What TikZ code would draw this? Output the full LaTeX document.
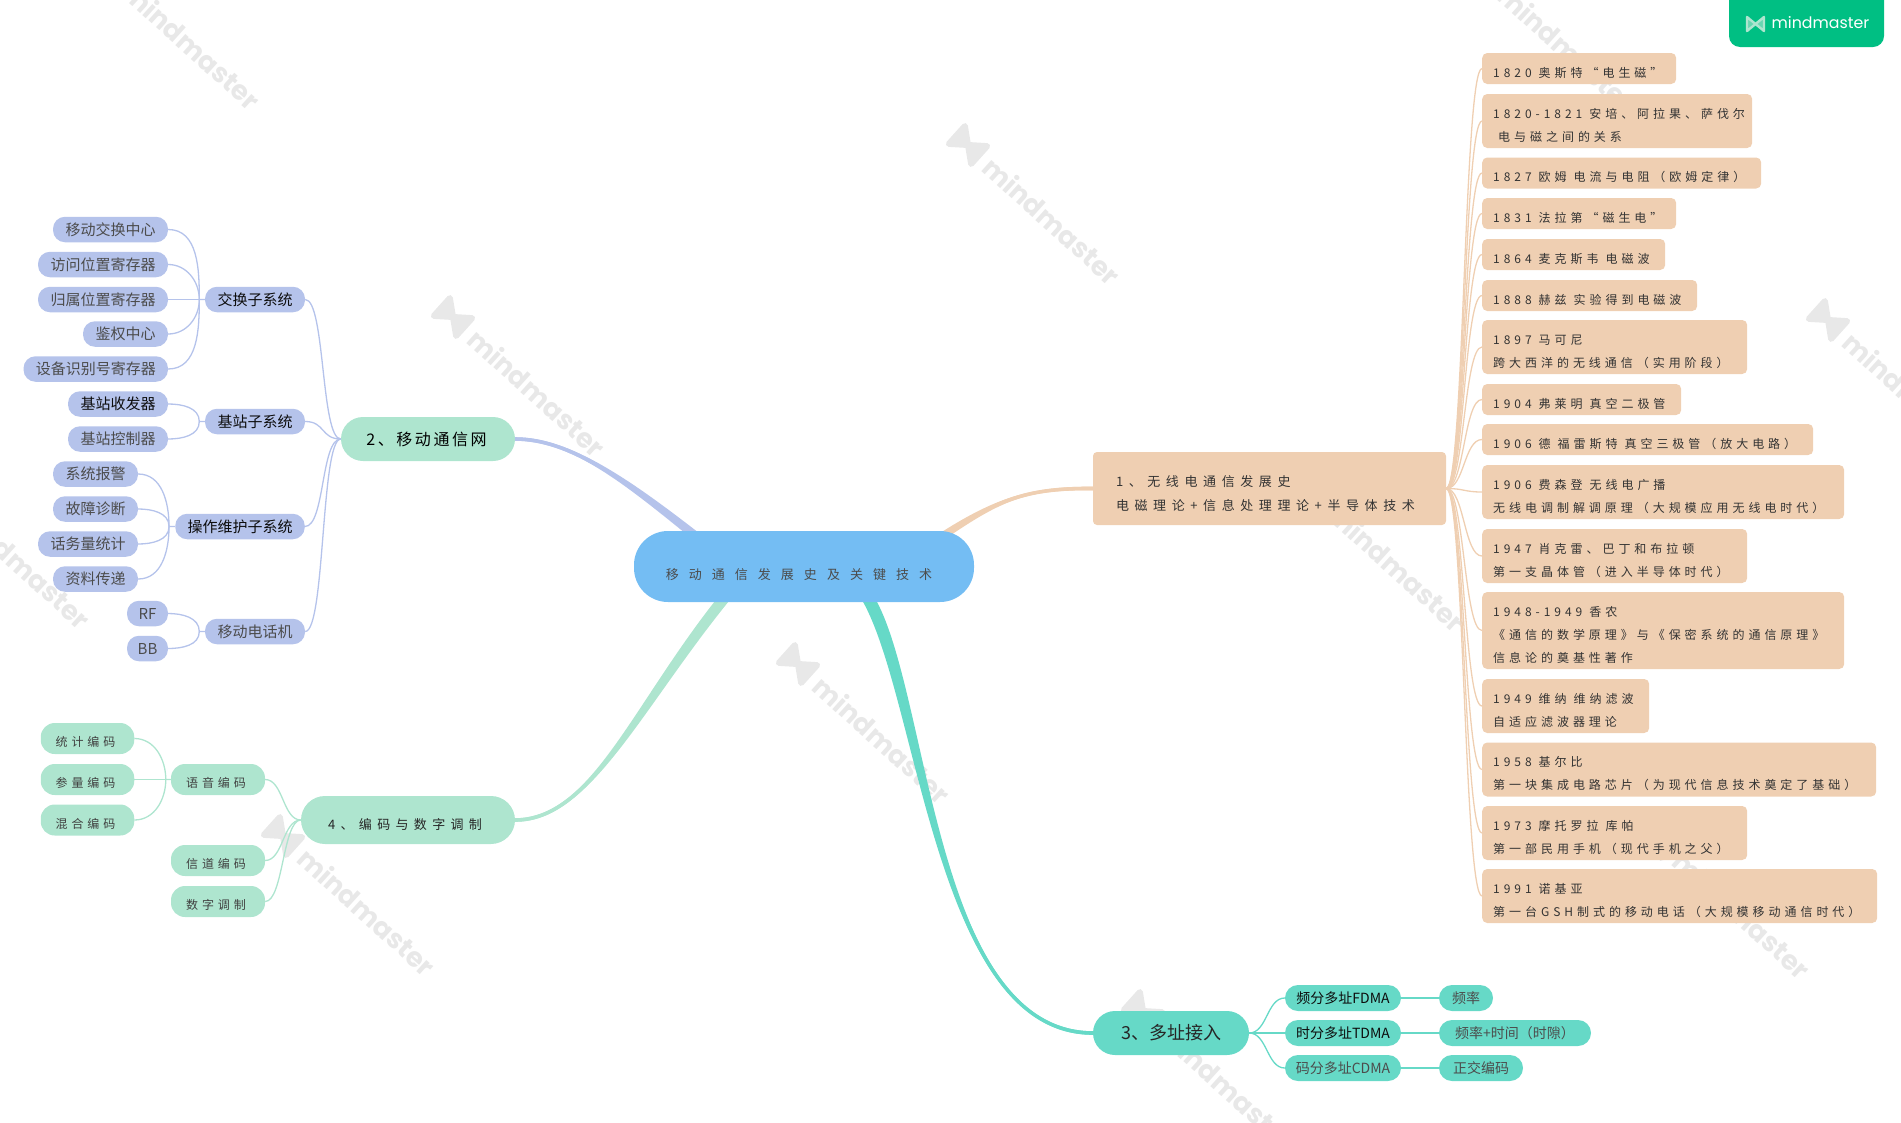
\documentclass[tikz,border=0pt]{standalone}
\usepackage{fontspec}
\setmainfont{Noto Sans CJK SC}
\newfontfamily\wmfont{Poppins}
\usepackage{tikz}
\usetikzlibrary{calc, backgrounds}
\definecolor{rootc}{RGB}{116, 189, 243}
\definecolor{tanc}{RGB}{239, 207, 178}
\definecolor{bluec}{RGB}{181, 195, 235}
\definecolor{mintc}{RGB}{174, 229, 207}
\definecolor{tealc}{RGB}{102, 217, 199}
\definecolor{logoc}{RGB}{0, 191, 131}
\newcommand{\yg}{\ \kern3pt\relax}
\newcommand{\bough}[6]{%
  \fill[#1] ($(#2)+(-7,0)$) .. controls ($(#3)+(-5.5,0)$) and ($(#4)+(0,#6)$) .. ($(#5)+(0,#6)$)
    -- ($(#5)+(0,{-1*(#6)})$) .. controls ($(#4)+(0,{-1*(#6)})$) and ($(#3)+(5.5,0)$) .. ($(#2)+(7,0)$) -- cycle;
  \draw[#1, line width=3.6pt] (#2) .. controls (#3) and (#4) .. (#5);
}

\begin{document}
\begin{tikzpicture}[
  x=1pt, y=-1pt,
  roottxt/.style={fill=rootc, rounded corners=34pt, minimum width=340pt, minimum height=71pt, inner sep=0pt,
              font=\fontsize{13}{24}\selectfont\addfontfeature{LetterSpace=77}, text=black!70, text height=26pt, text depth=0pt,
              execute at end node={\hspace*{10pt}}},
  mainbox/.style={fill=tanc, rounded corners=4pt, minimum height=73pt, inner xsep=23pt, inner ysep=0pt,
              text width=307pt, align=left, font=\fontsize{13}{24}\selectfont\addfontfeature{LetterSpace=43},
              text=black!80, text height=19pt, text depth=24pt},
  yearbox/.style={fill=tanc, rounded corners=5pt, anchor=west, minimum height=31pt, inner xsep=11pt, inner ysep=0pt,
              align=left, font=\fontsize{12}{23}\selectfont\addfontfeature{LetterSpace=33},
              text=black!80, text height=17pt, text depth=0pt, text width=#1pt-22pt},
  two/.style={minimum height=54pt, text depth=23pt},
  three/.style={minimum height=77pt, text depth=46pt},
  netbox/.style={fill=mintc, rounded corners=22pt, minimum width=174pt, minimum height=44pt, inner sep=0pt,
              font=\fontsize{16}{20}\selectfont\addfontfeature{LetterSpace=16}, execute at end node={\hspace*{3pt}}},
  bleaf/.style={fill=bluec, rounded corners=12pt, minimum height=25.5pt, inner sep=0pt,
              font=\fontsize{15}{18}\selectfont, text=black!70, minimum width=#1pt},
  codebox/.style={fill=mintc, rounded corners=24pt, minimum width=214pt, minimum height=48pt, inner sep=0pt,
              font=\fontsize{13}{20}\selectfont\addfontfeature{LetterSpace=41}, text=black!85, text height=18pt, text depth=0pt,
              execute at end node={\hspace*{6pt}}},
  mleaf/.style={fill=mintc, rounded corners=14pt, minimum height=31pt, inner sep=0pt,
              font=\fontsize{12}{20}\selectfont\addfontfeature{LetterSpace=33}, text=black!75,
              text height=16pt, text depth=0pt, minimum width=#1pt, execute at end node={\hspace*{4pt}}},
  accbox/.style={fill=tealc, rounded corners=22pt, minimum width=156pt, minimum height=44pt, inner sep=0pt,
              font=\fontsize{18}{20}\selectfont, text=black!85},
  tleaf/.style={fill=tealc, rounded corners=13pt, minimum height=26pt, inner sep=0pt,
              font=\fontsize{14}{18}\selectfont, text=black!70, minimum width=#1pt},
  dark/.style={text=black!95},
  sbend/.style={to path={.. controls +(#1,0) and +(-#1,0) .. (\tikztotarget)}},
  tanlink/.style={draw=tanc, line width=1.3pt},
  bluelink/.style={draw=bluec, line width=1.3pt},
  mintlink/.style={draw=mintc, line width=1.3pt},
  teallink/.style={draw=tealc, line width=1.3pt},
  wmark/.style={font=\fontsize{27}{30}\selectfont\wmfont\bfseries, text=black!9, inner sep=0pt, transform shape}
]
  \useasboundingbox (0,0) rectangle (1901,1122);

  % centre
  \node[roottxt] (hist) at (804,566.5) {移动通信发展史及关键技术};
  \coordinate (histtan) at (944,535);
  \coordinate (histblue) at (692,533);
  \coordinate (histmint) at (722,601);
  \coordinate (histteal) at (869,600);

  % 1 history
  \node[mainbox] (radio) at (1269.5,488.5) {1、无线电通信发展史\\电磁理论+信息处理理论+半导体技术};
  \node[yearbox=194] (r1) at (1482,68.5) {1820\yg 奥斯特“电生磁”};
  \node[yearbox=270, two] (r2) at (1482,121) {1820-1821\yg 安培、阿拉果、萨伐尔\\\hspace*{5pt}电与磁之间的关系};
  \node[yearbox=279] (r3) at (1482,173) {1827\yg 欧姆\yg 电流与电阻（欧姆定律）};
  \node[yearbox=194] (r4) at (1482,213.5) {1831\yg 法拉第“磁生电”};
  \node[yearbox=183] (r5) at (1482,254.5) {1864\yg 麦克斯韦\yg 电磁波};
  \node[yearbox=215] (r6) at (1482,295.5) {1888\yg 赫兹\yg 实验得到电磁波};
  \node[yearbox=265, two] (r7) at (1482,347) {1897\yg 马可尼\\跨大西洋的无线通信（实用阶段）};
  \node[yearbox=199] (r8) at (1482,399.5) {1904\yg 弗莱明\yg 真空二极管};
  \node[yearbox=331] (r9) at (1482,439.5) {1906\yg 德\yg 福雷斯特\yg 真空三极管（放大电路）};
  \node[yearbox=362, two] (r10) at (1482,492) {1906\yg 费森登\yg 无线电广播\\无线电调制解调原理（大规模应用无线电时代）};
  \node[yearbox=265, two] (r11) at (1482,556) {1947\yg 肖克雷、巴丁和布拉顿\\第一支晶体管（进入半导体时代）};
  \node[yearbox=362, three] (r12) at (1482,630.5) {1948-1949\yg 香农\\《通信的数学原理》与《保密系统的通信原理》\\信息论的奠基性著作};
  \node[yearbox=167, two] (r13) at (1482,706) {1949\yg 维纳\yg 维纳滤波\\自适应滤波器理论};
  \node[yearbox=394, two] (r14) at (1482,769.5) {1958\yg 基尔比\\第一块集成电路芯片（为现代信息技术奠定了基础）};
  \node[yearbox=265, two] (r15) at (1482,833) {1973\yg 摩托罗拉\yg 库帕\\第一部民用手机（现代手机之父）};
  \node[yearbox=395, two] (r16) at (1482,896) {1991\yg 诺基亚\\第一台GSH制式的移动电话（大规模移动通信时代）};

  % 2 network
  \node[netbox] (net) at (428,439) {2、移动通信网};
  \node[bleaf=100, dark] (sw) at (255,299.5) {交换子系统};
  \node[bleaf=100, dark] (bs) at (255,421.5) {基站子系统};
  \node[bleaf=129.5, dark] (om) at (240,526.5) {操作维护子系统};
  \node[bleaf=100] (ms) at (255,631.5) {移动电话机};
  \node[bleaf=115] (msc) at (110.5,229.5) {移动交换中心};
  \node[bleaf=130] (vlr) at (103,264.5) {访问位置寄存器};
  \node[bleaf=130] (hlr) at (103,299.5) {归属位置寄存器};
  \node[bleaf=85] (auc) at (125.5,334) {鉴权中心};
  \node[bleaf=144.5] (eir) at (95.75,369) {设备识别号寄存器};
  \node[bleaf=100, dark] (bts) at (118,404) {基站收发器};
  \node[bleaf=100] (bsc) at (118,439) {基站控制器};
  \node[bleaf=85] (alarm) at (95.5,474) {系统报警};
  \node[bleaf=85] (fault) at (95.5,509) {故障诊断};
  \node[bleaf=100] (traffic) at (88,544) {话务量统计};
  \node[bleaf=85] (data) at (95.5,579) {资料传递};
  \node[bleaf=41] (rf) at (147.5,613.5) {RF};
  \node[bleaf=41] (bb) at (147.5,648.5) {BB};

  % 4 coding
  \node[codebox] (coding) at (408,820) {4、编码与数字调制};
  \node[mleaf=94] (speech) at (218,779.5) {语音编码};
  \node[mleaf=94] (channel) at (218,860.5) {信道编码};
  \node[mleaf=94] (modu) at (218,901.5) {数字调制};
  \node[mleaf=93.5] (stat) at (87.5,738.5) {统计编码};
  \node[mleaf=93.5] (param) at (87.5,779.5) {参量编码};
  \node[mleaf=93.5] (mixed) at (87.5,820) {混合编码};

  % 3 access
  \node[accbox] (access) at (1171,1033) {3、多址接入};
  \node[tleaf=116, dark] (fdma) at (1343,998) {频分多址FDMA};
  \node[tleaf=116, dark] (tdma) at (1343,1033) {时分多址TDMA};
  \node[tleaf=116] (cdma) at (1343,1068) {码分多址CDMA};
  \node[tleaf=54] (freq) at (1466,998) {频率};
  \node[tleaf=152] (slot) at (1515,1033) {频率+时间（时隙）};
  \node[tleaf=84] (orth) at (1481,1068) {正交编码};

  % badge
  \node[fill=logoc, rounded corners=11pt, minimum width=155pt, minimum height=67pt, inner sep=0pt] (logo) at (1806.5,13.5) {};
  \node[font=\fontsize{15.8}{20}\selectfont\wmfont, text=white, inner sep=0pt] (logotxt) at (1820.5,22.5) {mindmaster};
  \draw[mintc, fill=mintc!60!logoc, line width=2.4pt, line join=round] (1747,17) -- (1764,31) -- (1764,17) -- (1747,31) -- cycle;

  \begin{pgfonlayer}{background}
    % watermark
    \foreach \wx/\wy in {968/145, 1313/492, 1658/839, 1483/-27, 1828/320, 453/317, 798/664, 1143/1011, -62/489, 283/836, 108/-30} {
      \begin{scope}[shift={(\wx,\wy)}, rotate=-42]
        \draw[black!9, fill=black!9, line width=6pt, line join=round] (-15,-12) -- (15,12) -- (15,-12) -- (-15,12) -- cycle;
        \node[wmark, anchor=center] at (113,0) {mindmaster};
      \end{scope}
    }
    % branches
    \bough{tanc}{histtan}{1000,498}{1030,488}{radio.west}{-1.8}
    \bough{bluec}{histblue}{625,480}{570,439}{net.east}{1.8}
    \bough{mintc}{histmint}{635,710}{590,820}{coding.east}{-1.8}
    \bough{tealc}{histteal}{925,700}{935,1033}{access.west}{1.8}

    % history
    \draw[tanlink] (radio.east) to[sbend=18] (r1.west);
    \draw[tanlink] (radio.east) to[sbend=18] (r2.west);
    \draw[tanlink] (radio.east) to[sbend=18] (r3.west);
    \draw[tanlink] (radio.east) to[sbend=18] (r4.west);
    \draw[tanlink] (radio.east) to[sbend=18] (r5.west);
    \draw[tanlink] (radio.east) to[sbend=18] (r6.west);
    \draw[tanlink] (radio.east) to[sbend=18] (r7.west);
    \draw[tanlink] (radio.east) to[sbend=18] (r8.west);
    \draw[tanlink] (radio.east) to[sbend=18] (r9.west);
    \draw[tanlink] (radio.east) to[sbend=18] (r10.west);
    \draw[tanlink] (radio.east) to[sbend=18] (r11.west);
    \draw[tanlink] (radio.east) to[sbend=18] (r12.west);
    \draw[tanlink] (radio.east) to[sbend=18] (r13.west);
    \draw[tanlink] (radio.east) to[sbend=18] (r14.west);
    \draw[tanlink] (radio.east) to[sbend=18] (r15.west);
    \draw[tanlink] (radio.east) to[sbend=18] (r16.west);

    % network
    \draw[bluelink] (sw.east) to[sbend=20] (net.west);
    \draw[bluelink] (bs.east) to[sbend=20] (net.west);
    \draw[bluelink] (om.east) to[sbend=20] (net.west);
    \draw[bluelink] (ms.east) to[sbend=20] (net.west);
    \coordinate (swhub) at ($(sw.west)+(-5.5,0)$);
    \coordinate (bshub) at ($(bs.west)+(-5.5,0)$);
    \coordinate (omhub) at ($(om.west)+(-6,0)$);
    \coordinate (mshub) at ($(ms.west)+(-5.5,0)$);
    \draw[bluelink] (msc.east) to[out=0, in=90] (swhub) -- (sw.west);
    \draw[bluelink] (vlr.east) to[out=0, in=90] (swhub);
    \draw[bluelink] (hlr.east) -- (sw.west);
    \draw[bluelink] (auc.east) to[out=0, in=-90] (swhub);
    \draw[bluelink] (eir.east) to[out=0, in=-90] (swhub);
    \draw[bluelink] (bts.east) to[out=0, in=90] (bshub) -- (bs.west);
    \draw[bluelink] (bsc.east) to[out=0, in=-90] (bshub);
    \draw[bluelink] (alarm.east) to[out=0, in=90] (omhub) -- (om.west);
    \draw[bluelink] (fault.east) to[out=0, in=90] (omhub);
    \draw[bluelink] (traffic.east) to[out=0, in=-90] (omhub);
    \draw[bluelink] (data.east) to[out=0, in=-90] (omhub);
    \draw[bluelink] (rf.east) to[out=0, in=90] (mshub) -- (ms.west);
    \draw[bluelink] (bb.east) to[out=0, in=-90] (mshub);

    % coding
    \draw[mintlink] (speech.east) to[sbend=18] (coding.west);
    \draw[mintlink] (channel.east) to[sbend=18] (coding.west);
    \draw[mintlink] (modu.east) to[sbend=18] (coding.west);
    \coordinate (spkhub) at ($(speech.west)+(-5,0)$);
    \draw[mintlink] (stat.east) to[out=0, in=90] (spkhub) -- (speech.west);
    \draw[mintlink] (param.east) -- (speech.west);
    \draw[mintlink] (mixed.east) to[out=0, in=-90] (spkhub);

    % access
    \draw[teallink] (access.east) to[sbend=18] (fdma.west);
    \draw[teallink, line width=2.2pt] (access.east) -- (tdma.west);
    \draw[teallink] (access.east) to[sbend=18] (cdma.west);
    \draw[teallink, line width=2.2pt] (fdma.east) -- (freq.west);
    \draw[teallink, line width=2.2pt] (tdma.east) -- (slot.west);
    \draw[teallink, line width=1.6pt] (cdma.east) -- (orth.west);
  \end{pgfonlayer}
\end{tikzpicture}
\end{document}
